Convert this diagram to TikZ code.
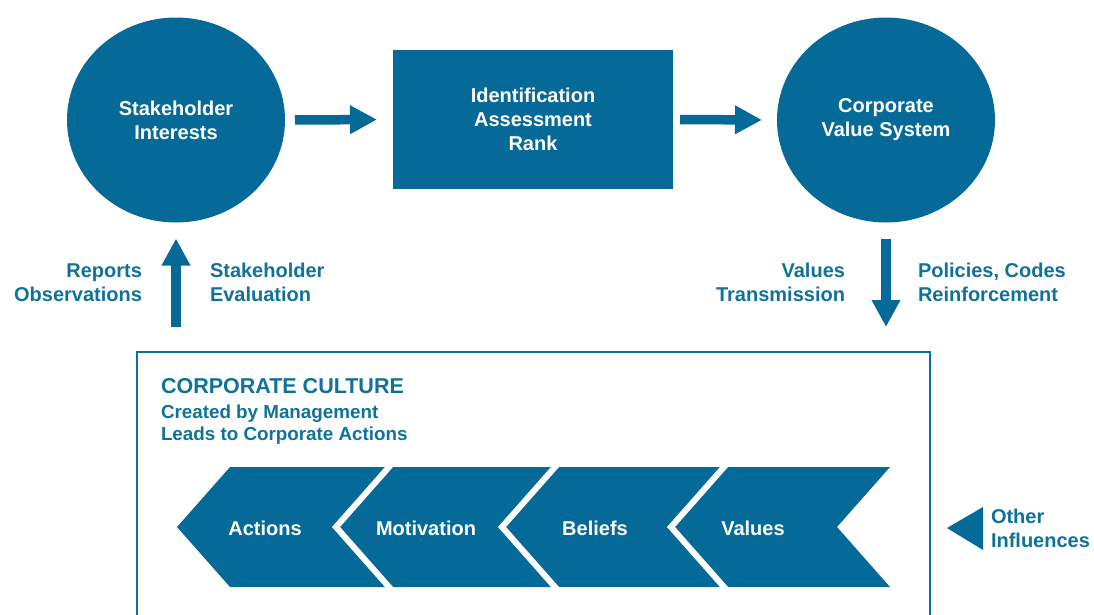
\documentclass[tikz,border=0pt]{standalone}
\usepackage{fontspec}
\setmainfont{Liberation Sans}
\usetikzlibrary{arrows.meta,shapes.geometric}
\definecolor{deepblue}{RGB}{6,106,152}
\definecolor{tealtext}{RGB}{16,114,154}
\begin{document}
\begin{tikzpicture}[x=1pt,y=-1pt,
  every node/.style={font=\bfseries\fontsize{20}{24}\selectfont, inner sep=0pt, outer sep=0pt},
  disc/.style={ellipse, fill=deepblue, text=white, minimum width=218pt, minimum height=205pt, align=center},
  block/.style={rectangle, fill=deepblue, text=white, align=center},
  lbl/.style={text=tealtext},
  chevtext/.style={text=white},
  blockarrow/.style={draw=deepblue, line width=9.5pt, -{Triangle[length=27pt,width=27pt]}},
  chevron/.style={fill=deepblue},
  gap/.style={draw=white, line width=6pt}
]
\useasboundingbox (0,0) rectangle (1094,614);
\clip (0,0) rectangle (1094,614);

% top row: interests -> ranking -> value system
\node[disc] (interest) at (176,120) {Stakeholder\\Interests};
\node[block, minimum width=280pt, minimum height=139pt] (rank) at (533,119.5) {Identification\\Assessment\\Rank};
\node[disc] (valuesys) at (886,120) {Corporate\\Value System};

% culture frame, open at the bottom
\node[draw=tealtext, line width=2.5pt, minimum width=793pt, minimum height=300pt, anchor=north west] (culture) at (137,352) {};

% block arrows
\draw[blockarrow, shorten <=10pt, shorten >=16pt] (interest.east) -- (rank.west);
\draw[blockarrow, shorten <=7pt, shorten >=15pt] (rank.east) -- (valuesys.west);
\draw[blockarrow, shorten <=25pt, shorten >=16pt] (culture.north -| interest.south) -- (interest.south);
\draw[blockarrow, shorten <=16pt, shorten >=25pt] (valuesys.south) -- (valuesys.south |- culture.north);

% arrow labels (base anchor sits on the last line)
\node[lbl, anchor=base east, align=right] (reports) at (142,301) {Reports\\Observations};
\node[lbl, anchor=base west, align=left] (evaluation) at (210,301) {Stakeholder\\Evaluation};
\node[lbl, anchor=base east, align=right] (transmission) at (845,301) {Values\\Transmission};
\node[lbl, anchor=base west, align=left] (policies) at (918,301) {Policies, Codes\\Reinforcement};

% culture heading
\node[lbl, anchor=base west, font=\bfseries\fontsize{21.5}{26}\selectfont] (heading) at (161,393) {CORPORATE CULTURE};
\node[lbl, anchor=base west, font=\bfseries\fontsize{18.8}{22}\selectfont] (created) at (161,418) {Created by Management};
\node[lbl, anchor=base west, font=\bfseries\fontsize{18.8}{22}\selectfont] (leads) at (161,440) {Leads to Corporate Actions};

% chevron chain
\foreach \a/\b in {230/389, 389/555, 555/724, 724/890}
  \fill[chevron] (\a,467) -- (\b,467) -- (\b-53,527) -- (\b,587) -- (\a,587) -- (\a-53,527) -- cycle;
\foreach \b in {389,555,724}
  \draw[gap] (\b+2.65,464) -- (\b-53,527) -- (\b+2.65,590);

\node[chevtext] (actions) at (265,528) {Actions};
\node[chevtext] (motivation) at (426,528) {Motivation};
\node[chevtext] (beliefs) at (595,528) {Beliefs};
\node[chevtext] (values) at (753,528) {Values};

% other influences
\node[lbl, anchor=base west, align=left] (other) at (991,547) {Other\\Influences};
\fill[deepblue] (947,528) -- (983,507) -- (983,550) -- cycle;
\end{tikzpicture}
\end{document}
